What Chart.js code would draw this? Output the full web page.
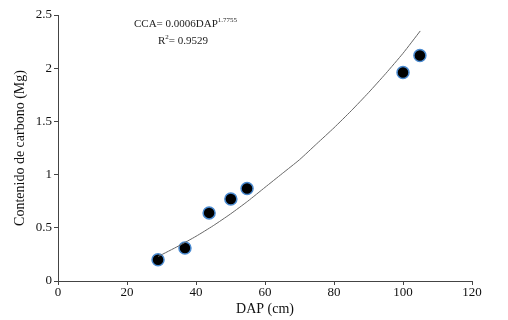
<!DOCTYPE html>
<html>
<head>
<meta charset="utf-8">
<script src="https://cdn.jsdelivr.net/npm/chart.js@4/dist/chart.umd.min.js"></script>
<style>
  html, body { margin: 0; padding: 0; background: #fff; }
  #c { display: block; }
</style>
</head>
<body>
<canvas id="c" width="508" height="320"></canvas>
<script>
// observed points
var dap = [29, 36.8, 43.8, 50.1, 54.8, 100, 104.9];
var carbono = [0.20, 0.31, 0.64, 0.77, 0.87, 1.96, 2.12];
// fitted curve
var curveX = [29, 35, 40, 45, 50, 55, 60, 65, 70, 75, 80, 85, 90, 95, 100, 105];
var curveY = [0.23, 0.33, 0.42, 0.52, 0.63, 0.75, 0.88, 1.01, 1.14, 1.29, 1.44, 1.60, 1.77, 1.95, 2.14, 2.35];
var xTicks = [0, 20, 40, 60, 80, 100, 120];
var yTicks = [0, 0.5, 1, 1.5, 2, 2.5];

var serif = "'Liberation Serif', 'Times New Roman', serif";
var axisColor = "#444";

var equationPlugin = {
  id: "equation",
  afterDraw: function (chart) {
    var ctx = chart.ctx;
    ctx.save();
    ctx.fillStyle = "#222";
    ctx.textBaseline = "alphabetic";
    ctx.font = "11px " + serif;
    var x = 134, y = 27;
    var s1 = "CCA= 0.0006DAP";
    ctx.fillText(s1, x, y);
    var w = ctx.measureText(s1).width;
    ctx.font = "7px " + serif;
    ctx.fillText("1.7755", x + w, y - 5);
    ctx.font = "11px " + serif;
    var x2 = 158, y2 = 44;
    ctx.fillText("R", x2, y2);
    var wr = ctx.measureText("R").width;
    ctx.font = "7px " + serif;
    ctx.fillText("2", x2 + wr, y2 - 5);
    var w2 = ctx.measureText("2").width;
    ctx.font = "11px " + serif;
    ctx.fillText("= 0.9529", x2 + wr + w2, y2);
    ctx.restore();
  }
};

new Chart(document.getElementById("c"), {
  type: "scatter",
  data: {
    datasets: [{
      type: "line",
      data: curveX.map(function (v, i) { return { x: v, y: curveY[i] }; }),
      borderColor: "#666",
      borderWidth: 1,
      pointRadius: 0,
      tension: 0.2,
      fill: false
    }, {
      data: dap.map(function (v, i) { return { x: v, y: carbono[i] }; }),
      backgroundColor: "#000",
      borderColor: "#4a8ad0",
      borderWidth: 1.5,
      pointRadius: 6
    }]
  },
  plugins: [equationPlugin],
  options: {
    responsive: false,
    animation: false,
    layout: { padding: { top: 15, right: 36, left: 0, bottom: 0 } },
    plugins: {
      legend: { display: false },
      tooltip: { enabled: false }
    },
    scales: {
      x: {
        type: "linear",
        min: 0,
        max: 120,
        afterBuildTicks: function (s) { s.ticks = xTicks.map(function (v) { return { value: v }; }); },
        afterFit: function (s) { s.height = 39; },
        border: { color: axisColor, width: 1 },
        grid: { drawOnChartArea: false, drawTicks: true, tickLength: 4, color: axisColor },
        ticks: { color: "#111", font: { family: serif, size: 13 }, padding: 0, maxRotation: 0 },
        title: { display: true, text: "DAP (cm)", color: "#111", font: { family: serif, size: 14 }, padding: { top: 0, bottom: 2 } }
      },
      y: {
        min: 0,
        max: 2.5,
        afterBuildTicks: function (s) { s.ticks = yTicks.map(function (v) { return { value: v }; }); },
        afterFit: function (s) { s.width = 58; },
        border: { color: axisColor, width: 1 },
        grid: { drawOnChartArea: false, drawTicks: true, tickLength: 4, color: axisColor },
        ticks: {
          color: "#111", font: { family: serif, size: 13 }, padding: 2,
          callback: function (v) { return String(v); }
        },
        title: { display: true, text: "Contenido de carbono (Mg)", color: "#111", font: { family: serif, size: 14 }, padding: { top: 12, bottom: 0 } }
      }
    }
  }
});
</script>
</body>
</html>
